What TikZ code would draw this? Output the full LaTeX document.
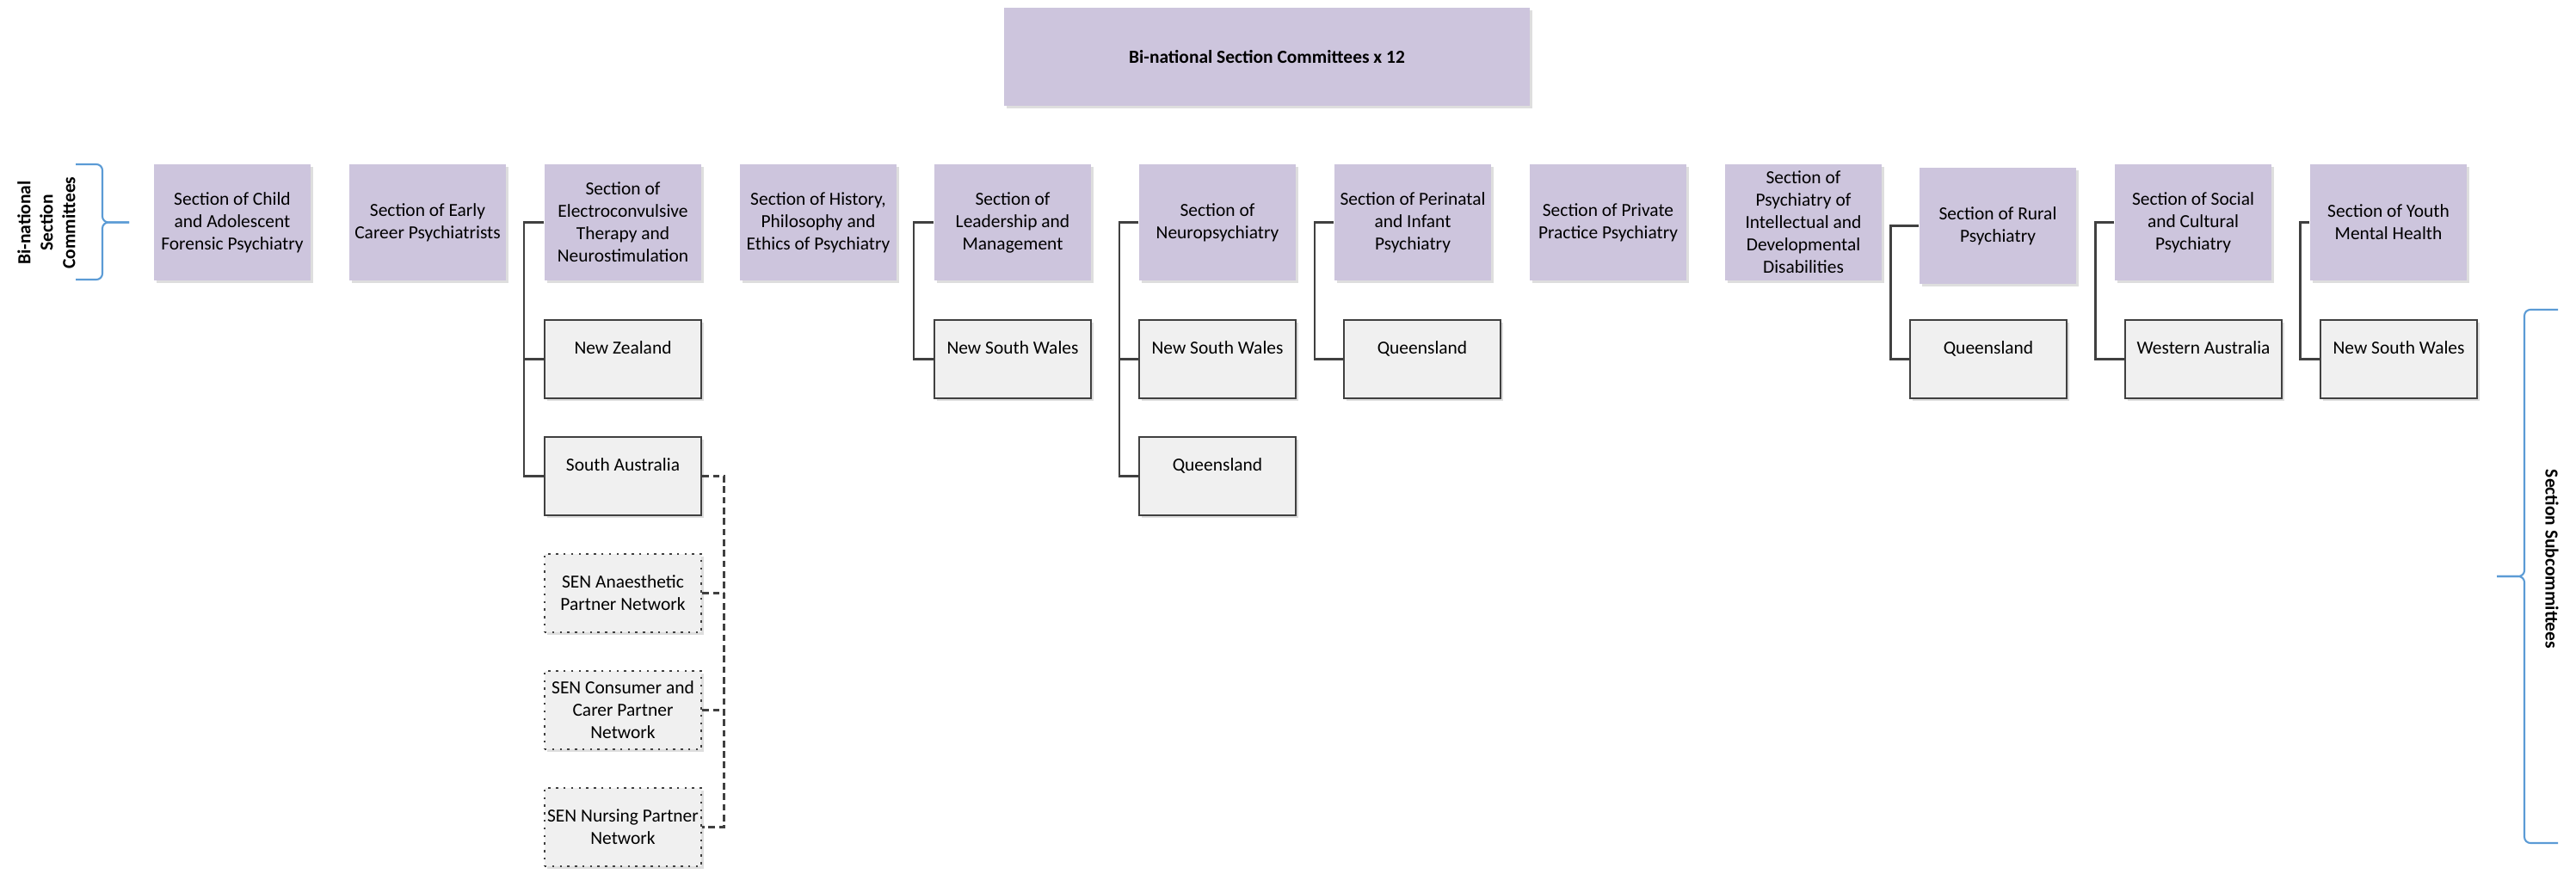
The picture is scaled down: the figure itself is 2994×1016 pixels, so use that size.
\documentclass[tikz,border=0pt]{standalone}
\usepackage{fontspec}
\setmainfont{Carlito}
\usetikzlibrary{shadows}

\definecolor{secfill}{RGB}{205,197,221}
\definecolor{subfill}{RGB}{240,240,240}
\definecolor{linegray}{RGB}{64,64,64}
\definecolor{bracecol}{RGB}{91,155,213}

\tikzset{
  txt/.style={font=\fontsize{6.1}{7.4}\selectfont, align=center, inner sep=0pt},
  shdw/.style={drop shadow={shadow xshift=0.03cm, shadow yshift=-0.03cm, fill=black, opacity=0.13}},
  sect/.style={txt, fill=secfill, shdw, minimum width=1.82cm, minimum height=1.35cm},
  topbox/.style={sect, font=\fontsize{6.1}{7.4}\selectfont\bfseries, minimum width=6.11cm, minimum height=1.13cm},
  subbox/.style={txt, fill=subfill, draw=linegray, line width=0.7pt, shdw,
    minimum width=1.82cm, minimum height=0.91cm, text height=5pt, text depth=8.4pt},
  senbox/.style={txt, fill=subfill, draw=linegray, line width=0.7pt, dash pattern=on 0.7pt off 1.8pt, shdw,
    minimum width=1.82cm, minimum height=0.91cm},
  link/.style={draw=linegray, line width=0.7pt},
  dlink/.style={link, dash pattern=on 2.2pt off 1.3pt},
  brk/.style={draw=bracecol, line width=0.6pt, rounded corners=2pt},
  sidelabel/.style={txt, font=\fontsize{6.1}{7.4}\selectfont\bfseries}
}

\begin{document}
\begin{tikzpicture}[x=0.01cm, y=-0.01cm]
\useasboundingbox (0,0) rectangle (2994,1016);

% ===== Top box =====
\node[topbox] (top) at (1472.5,66) {Bi-national Section Committees x 12};

% ===== Section committees =====
\foreach \nm/\cx/\cy/\txt in {
  cafp/270/258.5/{Section of Child\\and Adolescent\\Forensic Psychiatry},
  ecp/497/258.5/{Section of Early\\Career Psychiatrists},
  ect/724/258.5/{Section of\\Electroconvulsive\\Therapy and\\Neurostimulation},
  hist/951/258.5/{Section of History,\\Philosophy and\\Ethics of Psychiatry},
  lead/1177/258.5/{Section of\\Leadership and\\Management},
  neuro/1415/258.5/{Section of\\Neuropsychiatry},
  peri/1642/258.5/{Section of Perinatal\\and Infant\\Psychiatry},
  priv/1869/258.5/{Section of Private\\Practice Psychiatry},
  intel/2096/258.5/{Section of\\Psychiatry of\\Intellectual and\\Developmental\\Disabilities},
  rural/2322/262.5/{Section of Rural\\Psychiatry},
  social/2549/258.5/{Section of Social\\and Cultural\\Psychiatry},
  youth/2776/258.5/{Section of Youth\\Mental Health}} {
    \node[sect] (\nm) at (\cx,\cy) {\txt};
}

% ===== Subcommittees =====
\node[subbox] (ectNZ) at (724,417.5) {New Zealand};
\node[subbox] (ectSA) at (724,553.5) {South Australia};
\node[senbox] (senAna) at (724,689.5) {SEN Anaesthetic\\Partner Network};
\node[senbox] (senCon) at (724,825.5) {SEN Consumer and\\Carer Partner\\Network};
\node[senbox] (senNur) at (724,961.5) {SEN Nursing Partner\\Network};

\node[subbox] (leadNSW) at (1177,417.5) {New South Wales};
\node[subbox] (neuroNSW) at (1415,417.5) {New South Wales};
\node[subbox] (neuroQLD) at (1415,553.5) {Queensland};
\node[subbox] (periQLD) at (1653,417.5) {Queensland};
\node[subbox] (ruralQLD) at (2311,417.5) {Queensland};
\node[subbox] (socialWA) at (2561,417.5) {Western Australia};
\node[subbox] (youthNSW) at (2788,417.5) {New South Wales};

% ===== Connectors =====
\foreach \p/\c/\d in {ect/ectNZ/23, ect/ectSA/23, lead/leadNSW/23,
    neuro/neuroNSW/22, neuro/neuroQLD/22, peri/periQLD/22,
    rural/ruralQLD/33, social/socialWA/22, youth/youthNSW/11} {
  \draw[link] (\p.west) -- ++(-\d,0) |- (\c.west);
}

% SEN partner networks (dashed)
\draw[dlink] (ectSA.east) -- ++(25,0) coordinate (senbus) |- (senNur.east);
\draw[dlink] (senAna.east) -- (senAna.east -| senbus);
\draw[dlink] (senCon.east) -- (senCon.east -| senbus);

% ===== Braces =====
\draw[brk] (88,191) -| (119,258.5) -- (150,258.5);
\draw[brk] (88,325) -| (119,258.5) -- (150,258.5);
\node[sidelabel, rotate=90] (leftlbl) at (54,259) {Bi-national\\Section\\Committees};

\draw[brk] (2973,360) -| (2934,670) -- (2902,670);
\draw[brk] (2973,980) -| (2934,670) -- (2902,670);
\node[sidelabel, rotate=-90] (rightlbl) at (2966,650) {Section Subcommittees};

\end{tikzpicture}
\end{document}
